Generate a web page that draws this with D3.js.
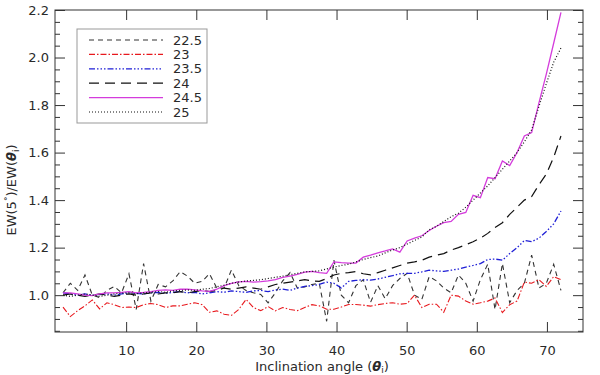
<!DOCTYPE html>
<html><head><meta charset="utf-8">
<script src="https://cdn.jsdelivr.net/npm/d3@7"></script>
<style>
html,body{margin:0;padding:0;background:#fff;}
svg text{font-family:"DejaVu Sans",Verdana,sans-serif;fill:#2a2a2a;}
</style></head>
<body>
<svg id="chart" width="600" height="375"></svg>
<script>
const angles = [1.0,2.04,3.09,4.13,5.18,6.22,7.26,8.31,9.35,10.4,11.44,12.49,13.53,14.57,15.62,16.66,17.71,18.75,19.79,20.84,21.88,22.93,23.97,25.01,26.06,27.1,28.15,29.19,30.24,31.28,32.32,33.37,34.41,35.46,36.5,37.54,38.59,39.63,40.68,41.72,42.76,43.81,44.85,45.9,46.94,47.99,49.03,50.07,51.12,52.16,53.21,54.25,55.29,56.34,57.38,58.43,59.47,60.51,61.56,62.6,63.65,64.69,65.74,66.78,67.82,68.87,69.91,70.96,72.0];
const seriesNames = ["22.5", "23", "23.5", "24", "24.5", "25"];
const s225 = [1.01,1.05,1.02,1.085,1.0,0.99,1.02,1.037,1.01,1.09,0.94,1.133,0.975,1.045,1.035,1.06,1.099,1.08,1.05,1.058,1.09,1.03,1.03,1.106,1.04,1.02,1.01,1.003,0.968,1.01,1.06,1.095,1.03,1.035,1.045,1.05,0.89,1.147,1.0,0.968,1.04,1.065,0.97,1.04,0.985,1.04,1.07,1.092,1.0,0.982,1.078,1.06,1.03,1.01,1.085,1.05,0.975,1.065,1.13,0.94,1.133,0.968,1.02,1.05,1.168,1.03,1.05,1.13,1.02];
const s23 = [0.95,0.91,0.935,0.955,0.98,0.942,0.968,0.96,0.948,0.95,0.948,0.96,0.965,0.96,0.948,0.955,0.955,0.962,0.968,0.96,0.928,0.934,0.92,0.915,0.94,0.982,0.948,0.935,0.952,0.934,0.948,0.94,0.935,0.948,0.96,0.955,0.941,0.941,0.95,0.961,0.961,0.958,0.954,0.96,0.965,0.968,0.962,0.965,1.0,0.948,0.962,0.962,0.928,1.0,0.996,0.975,0.962,0.968,0.975,0.988,0.927,0.96,0.975,1.055,1.05,1.065,1.037,1.078,1.065];
const s235 = [1.01,1.005,1.0,1.005,1.0,1.002,1.006,1.0,1.005,1.01,1.008,1.005,1.01,1.012,1.008,1.012,1.015,1.01,1.012,1.005,1.01,1.015,1.012,1.018,1.015,1.012,1.018,1.02,1.015,1.022,1.025,1.02,1.03,1.037,1.04,1.045,1.055,1.05,1.03,1.058,1.062,1.065,1.063,1.068,1.075,1.082,1.09,1.092,1.092,1.098,1.105,1.102,1.1,1.105,1.11,1.118,1.125,1.133,1.15,1.152,1.147,1.175,1.2,1.23,1.225,1.24,1.268,1.3,1.354];
const s24 = [1.0,1.005,1.0,0.995,1.0,1.005,1.0,0.995,1.0,1.005,1.0,1.005,1.01,1.005,1.01,1.01,1.015,1.01,1.015,1.02,1.015,1.02,1.03,1.025,1.03,1.035,1.03,1.025,1.035,1.045,1.05,1.055,1.06,1.065,1.06,1.058,1.07,1.085,1.092,1.095,1.099,1.09,1.085,1.095,1.105,1.115,1.125,1.135,1.14,1.147,1.16,1.168,1.175,1.19,1.2,1.212,1.225,1.24,1.26,1.285,1.305,1.34,1.37,1.4,1.415,1.465,1.51,1.58,1.67];
const s245 = [1.01,1.01,1.005,1.0,0.998,1.005,1.01,1.01,1.012,1.015,1.01,1.012,1.015,1.02,1.022,1.02,1.025,1.025,1.022,1.018,1.016,1.025,1.04,1.05,1.056,1.058,1.055,1.057,1.06,1.065,1.075,1.08,1.088,1.097,1.1,1.095,1.092,1.14,1.137,1.135,1.135,1.16,1.168,1.178,1.186,1.195,1.181,1.228,1.24,1.25,1.272,1.29,1.305,1.31,1.34,1.348,1.42,1.41,1.495,1.49,1.565,1.545,1.6,1.67,1.684,1.81,1.93,2.06,2.19];
const s25 = [1.0,0.995,1.0,1.005,1.0,0.995,1.0,1.005,1.008,1.01,1.006,1.01,1.012,1.015,1.012,1.018,1.02,1.022,1.02,1.025,1.028,1.035,1.042,1.05,1.055,1.06,1.062,1.065,1.07,1.075,1.08,1.086,1.092,1.098,1.1,1.102,1.11,1.118,1.125,1.13,1.14,1.15,1.158,1.165,1.178,1.19,1.2,1.215,1.23,1.245,1.275,1.29,1.31,1.33,1.345,1.37,1.4,1.43,1.46,1.495,1.53,1.565,1.6,1.645,1.696,1.795,1.89,1.98,2.04];
const xTicks = [10, 20, 30, 40, 50, 60, 70];
const yTicks = [1.0, 1.2, 1.4, 1.6, 1.8, 2.0, 2.2];

const seriesValues = [s225, s23, s235, s24, s245, s25];
const colors = ["#333333", "#e8191e", "#1f1fd6", "#111111", "#d43cdc", "#111111"];
const dashes = ["5,4", "6,2,1.5,2", "6,2,1.5,2,1.5,2,1.5,2", "10,6", null, "1,2"];
const widths = [1.1, 1.1, 1.3, 1.2, 1.3, 1.2];

const svg = d3.select("#chart");
const L = 55, R = 583, T = 10, B = 332;
const x = d3.scaleLinear().domain([0, 75]).range([56, 582]);
const y = d3.scaleLinear().domain([0.845, 2.2]).range([B, T]);

svg.append("defs").append("clipPath").attr("id","clip")
  .append("rect").attr("x", L).attr("y", T).attr("width", R-L).attr("height", B-T);

const line = d3.line().x(d => x(d[0])).y(d => y(d[1]));
const g = svg.append("g").attr("clip-path","url(#clip)");
seriesValues.forEach((vals, i) => {
  g.append("path")
    .datum(angles.map((a, j) => [a, vals[j]]))
    .attr("d", line)
    .attr("fill","none")
    .attr("stroke", colors[i])
    .attr("stroke-width", widths[i])
    .attr("stroke-dasharray", dashes[i]);
});

const axisColor = "#333";
function style(sel){
  sel.selectAll("path,line").attr("stroke", axisColor).attr("stroke-width", 1);
  sel.selectAll("text").attr("font-size", 13).attr("fill","#2a2a2a");
}
const minorY = d3.range(0.85, 2.2001, 0.05).filter(v => Math.abs(v*5 - Math.round(v*5)) > 1e-6);

// frame
svg.append("rect").attr("x", L).attr("y", T).attr("width", R-L).attr("height", B-T)
  .attr("fill","none").attr("stroke", axisColor).attr("stroke-width",1);

svg.append("g").attr("transform",`translate(0,${B})`)
  .call(d3.axisBottom(x).tickValues(xTicks).tickFormat(d3.format("d")).tickSizeInner(-10).tickSizeOuter(0).tickPadding(14))
  .call(style).call(s => s.select(".domain").remove());
svg.append("g").attr("transform",`translate(0,${T})`)
  .call(d3.axisTop(x).tickValues(xTicks).tickFormat("").tickSizeInner(-10).tickSizeOuter(0))
  .call(style).call(s => s.select(".domain").remove());
svg.append("g").attr("transform",`translate(${L},0)`)
  .call(d3.axisLeft(y).tickValues(yTicks).tickFormat(d3.format(".1f")).tickSizeInner(-10).tickSizeOuter(0).tickPadding(6))
  .call(style).call(s => s.select(".domain").remove());
svg.append("g").attr("transform",`translate(${L},0)`)
  .call(d3.axisLeft(y).tickValues(minorY).tickFormat("").tickSizeInner(-5).tickSizeOuter(0))
  .call(style).call(s => s.select(".domain").remove());
svg.append("g").attr("transform",`translate(${R},0)`)
  .call(d3.axisRight(y).tickValues(yTicks).tickFormat("").tickSizeInner(-10).tickSizeOuter(0))
  .call(style).call(s => s.select(".domain").remove());
svg.append("g").attr("transform",`translate(${R},0)`)
  .call(d3.axisRight(y).tickValues(minorY).tickFormat("").tickSizeInner(-5).tickSizeOuter(0))
  .call(style).call(s => s.select(".domain").remove());

// axis titles
const xt = svg.append("text").attr("x", 322).attr("y", 371).attr("text-anchor","middle").attr("font-size",13);
xt.append("tspan").text("Inclination angle (");
xt.append("tspan").attr("font-style","italic").attr("font-weight","bold").text("θ");
xt.append("tspan").attr("font-size",9).attr("dy",1.5).text("i");
xt.append("tspan").attr("dy",-1.5).text(")");

const yt = svg.append("text").attr("transform","translate(16,190) rotate(-90)").attr("text-anchor","middle").attr("font-size",13);
yt.append("tspan").text("EW(5");
yt.append("tspan").attr("font-size",9).attr("dy",-5).text("°");
yt.append("tspan").attr("dy",5).text(")/EW(");
yt.append("tspan").attr("font-style","italic").attr("font-weight","bold").text("θ");
yt.append("tspan").attr("font-size",9).attr("dy",3).text("i");
yt.append("tspan").attr("dy",-3).text(")");

// legend
const lg = svg.append("g");
lg.append("rect").attr("x",77).attr("y",29).attr("width",130).attr("height",94)
  .attr("fill","#fff").attr("stroke","#999").attr("stroke-width",1);
seriesNames.forEach((n, i) => {
  const yy = 40 + i*14.4;
  lg.append("line").attr("x1",89).attr("x2",163).attr("y1",yy).attr("y2",yy)
    .attr("stroke",colors[i]).attr("stroke-width",widths[i]).attr("stroke-dasharray",dashes[i]);
  lg.append("text").attr("x",173).attr("y",yy+4.5).attr("font-size",13).text(n);
});
</script>
</body></html>
